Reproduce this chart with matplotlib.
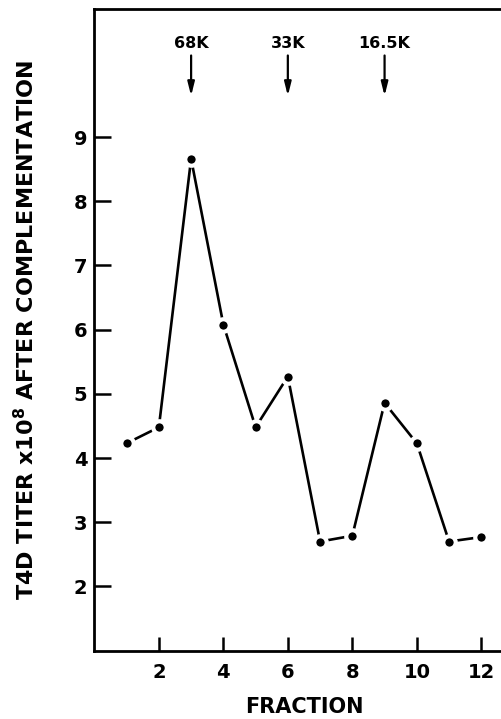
import matplotlib
matplotlib.use("Agg")
import matplotlib.pyplot as plt

fraction = [1, 2, 3, 4, 5, 6, 7, 8, 9, 10, 11, 12]
titer = [4.23, 4.48, 8.66, 6.08, 4.48, 5.27, 2.70, 2.79, 4.86, 4.23, 2.70, 2.77]
marker_labels = ["68K", "33K", "16.5K"]
marker_pos = [3, 6, 9]
xticks = [2, 4, 6, 8, 10, 12]
yticks = [2, 3, 4, 5, 6, 7, 8, 9]

plt.rcParams['font.family'] = ['DejaVu Sans']
plt.rcParams['font.weight'] = 'bold'

fig = plt.figure(figsize=(5.02, 7.19), dpi=100)
ax = fig.add_axes([0.188, 0.095, 0.835, 0.893])

ax.plot(fraction, titer, color='black', lw=1.9, marker='o', ms=9,
        markerfacecolor='black', markeredgecolor='white', markeredgewidth=3,
        solid_capstyle='butt', zorder=3)

ax.set_xlim(0, 13)
ax.set_ylim(1, 11)
ax.set_xticks(xticks)
ax.set_yticks(yticks)
ax.tick_params(axis='y', direction='in', length=12, width=1.8,
               labelsize=14, pad=5)
ax.tick_params(axis='x', direction='in', length=10, width=1.8,
               labelsize=14, pad=9)
for lab in ax.get_xticklabels() + ax.get_yticklabels():
    lab.set_fontweight('bold')
for s in ['left', 'bottom', 'top']:
    ax.spines[s].set_linewidth(2)
ax.spines['right'].set_visible(False)

for lbl, xp in zip(marker_labels, marker_pos):
    ax.text(xp, 10.45, lbl, ha='center', va='center', fontsize=11.5, fontweight='bold')
    ax.annotate('', xy=(xp, 9.64), xytext=(xp, 10.27),
                arrowprops=dict(arrowstyle='-|>,head_width=0.2,head_length=0.8',
                                color='black', lw=1.6, shrinkA=0, shrinkB=0))

ax.set_xlabel('FRACTION', fontsize=15, fontweight='bold', labelpad=11)
fig.text(26 / 502, 1 - 330 / 719,
         r'T4D TITER x10$^{\mathbf{8}}$ AFTER COMPLEMENTATION',
         rotation=90, ha='center', va='center', fontsize=16, fontweight='bold')

fig.savefig('out.png', dpi=100)
